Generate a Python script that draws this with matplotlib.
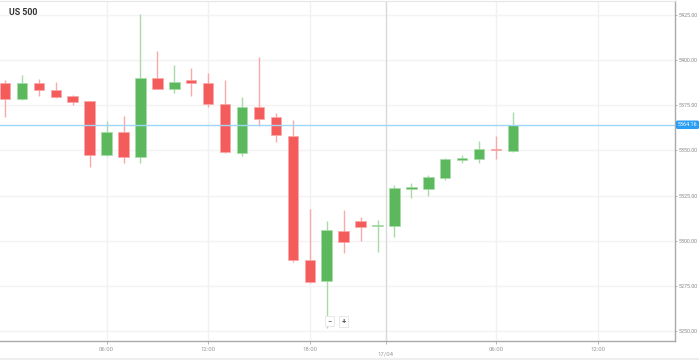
import matplotlib.pyplot as plt
import numpy as np

plt.rcParams['font.family'] = ['Roboto', 'DejaVu Sans']

# hourly candles, US 500
opens  = [5387.1, 5378.4, 5387.3, 5383.4, 5380.1, 5377.3, 5347.5, 5360.2, 5346.4, 5390.0,
          5384.0, 5388.9, 5387.3, 5375.7, 5348.6, 5374.0, 5368.5, 5358.0, 5289.4, 5277.8,
          5305.4, 5311.0, 5308.2, 5308.2, 5328.9, 5328.6, 5334.7, 5344.7, 5345.2, 5350.8, 5349.7]
closes = [5378.4, 5387.3, 5383.4, 5379.5, 5376.8, 5347.5, 5360.2, 5346.4, 5390.0, 5384.0,
          5387.8, 5387.3, 5375.7, 5349.1, 5374.0, 5367.4, 5358.5, 5289.4, 5277.2, 5306.0,
          5299.3, 5307.6, 5308.8, 5329.2, 5329.5, 5335.3, 5345.2, 5345.8, 5350.8, 5350.0, 5364.0]
highs  = [5388.9, 5391.7, 5389.5, 5387.8, 5380.5, 5377.5, 5366.3, 5369.0, 5425.4, 5405.0,
          5397.2, 5395.6, 5392.8, 5388.9, 5379.5, 5401.7, 5370.7, 5366.8, 5317.6, 5311.0,
          5317.0, 5313.2, 5311.5, 5330.9, 5332.0, 5336.4, 5345.8, 5347.5, 5355.2, 5358.0, 5371.2]
lows   = [5368.5, 5378.0, 5380.1, 5379.0, 5375.1, 5340.8, 5347.0, 5343.0, 5343.0, 5384.0,
          5381.7, 5380.1, 5374.0, 5348.8, 5346.9, 5363.5, 5354.6, 5288.3, 5276.7, 5251.8,
          5293.1, 5299.9, 5293.8, 5302.1, 5323.7, 5324.8, 5333.6, 5343.0, 5343.0, 5345.2, 5349.1]

last_price = 5364.16
y_ticks = [5250, 5275, 5300, 5325, 5350, 5375, 5400, 5425]
x_tick_pos = [6, 12, 18, 29, 35]
x_tick_labels = ['06:00', '12:00', '18:00', '06:00', '12:00']
day_pos = 22.48
day_label = '17/04'

red = '#f45b5b'
green = '#5cb85c'
red_wick = '#f9a9a9'
green_wick = '#a9dba9'

fig = plt.figure(figsize=(6.99, 3.61), dpi=100)
ax = fig.add_axes([0, 20 / 361, 675 / 699, 340 / 361])

x = np.arange(len(opens))
for i in x:
    o, c, h, l = opens[i], closes[i], highs[i], lows[i]
    up = c >= o
    col = green if up else red
    wcol = green_wick if up else red_wick
    ax.vlines(i, l, h, color=wcol, linewidth=1, zorder=2)
    bottom = min(o, c)
    height = max(abs(c - o), 0.7)
    ax.bar(i, height, bottom=bottom, width=0.62, color=col, edgecolor=wcol,
           linewidth=0.5, zorder=3)

ax.set_xlim(-0.295, 39.57)
ax.set_ylim(5244.6, 5432.6)

# grid
for yt in y_ticks:
    ax.axhline(yt, color='#f3f3f3', linewidth=1, zorder=0)
for xt in x_tick_pos:
    ax.axvline(xt, color='#f1f1f1', linewidth=1, zorder=0)
ax.axvline(day_pos, color='#d9d9d9', linewidth=1, zorder=0)

# current price line
ax.axhline(last_price, color='#9fd6f7', linewidth=1, zorder=4)

ax.yaxis.tick_right()
ax.set_yticks(y_ticks)
ax.set_yticklabels([f'{v:.2f}' for v in y_ticks], fontsize=3.9, color='#888888')
ax.tick_params(axis='y', length=1.5, width=0.6, color='#aaaaaa', pad=1)

ax.set_xticks(x_tick_pos + [day_pos])
ax.set_xticklabels(x_tick_labels + [''], fontsize=4.3, color='#999999')
ax.tick_params(axis='x', length=2, width=0.6, color='#aaaaaa', pad=2)
ax.text(day_pos, -0.031, day_label, transform=ax.get_xaxis_transform(),
        ha='center', va='top', fontsize=4.3, color='#999999')

ax.spines['left'].set_visible(False)
ax.spines['top'].set_color('#e6e6e6')
ax.spines['right'].set_color('#aaaaaa')
ax.spines['bottom'].set_color('#aaaaaa')
ax.spines['right'].set_linewidth(1)
ax.spines['bottom'].set_linewidth(1)

# price label
ax.text(1.004, last_price, f'{last_price:.2f}', transform=ax.get_yaxis_transform(),
        ha='left', va='center', fontsize=3.9, color='white', zorder=6,
        bbox=dict(boxstyle='round,pad=0.2', fc='#2a9df4', ec='#2a9df4'))

ax.text(9 / 675, 0.967, 'US 500', transform=ax.transAxes, ha='left', va='center',
        fontsize=6.3, fontweight='bold', color='#333333')

# zoom buttons
ax.text(329.5 / 675, 0.058, '\u2212', transform=ax.transAxes, ha='center', va='center',
        fontsize=5.5, color='#555555', bbox=dict(boxstyle='square,pad=0.25', fc='white', ec='#e4e4e4', lw=0.6))
ax.text(343.5 / 675, 0.058, '+', transform=ax.transAxes, ha='center', va='center',
        fontsize=5.5, color='#555555', fontweight='bold',
        bbox=dict(boxstyle='square,pad=0.25', fc='white', ec='#e4e4e4', lw=0.6))

fig.add_artist(plt.Line2D([0, 1], [2 / 361, 2 / 361], color='#eeeeee', linewidth=1.5))

fig.savefig('out.png', dpi=100)
